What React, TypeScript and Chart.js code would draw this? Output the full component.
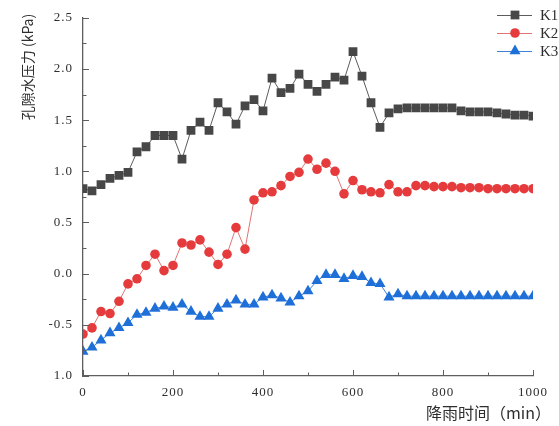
import React, { useEffect, useRef } from "react";
import { Chart, registerables } from "chart.js";

Chart.register(...registerables);

// Rainfall time (min)
const times = [
  0, 20, 40, 60, 80, 100, 120, 140, 160, 180,
  200, 220, 240, 260, 280, 300, 320, 340, 360, 380,
  400, 420, 440, 460, 480, 500, 520, 540, 560, 580,
  600, 620, 640, 660, 680, 700, 720, 740, 760, 780,
  800, 820, 840, 860, 880, 900, 920, 940, 960, 980,
  1000,
];

const k1 = [
  0.83, 0.81, 0.87, 0.93, 0.96, 0.99, 1.19, 1.24, 1.35, 1.35,
  1.35, 1.12, 1.40, 1.48, 1.40, 1.67, 1.58, 1.46, 1.64, 1.70,
  1.59, 1.91, 1.77, 1.81, 1.95, 1.85, 1.78, 1.85, 1.92, 1.89,
  2.17, 1.93, 1.67, 1.43, 1.57, 1.61, 1.62, 1.62, 1.62, 1.62,
  1.62, 1.62, 1.59, 1.58, 1.58, 1.58, 1.57, 1.56, 1.55, 1.55,
  1.54,
];

const k2 = [
  -0.59, -0.53, -0.37, -0.39, -0.27, -0.10, -0.05, 0.08, 0.19, 0.03,
  0.08, 0.30, 0.28, 0.33, 0.21, 0.09, 0.19, 0.45, 0.24, 0.72,
  0.79, 0.80, 0.86, 0.95, 0.99, 1.12, 1.02, 1.08, 1.00, 0.78,
  0.91, 0.82, 0.80, 0.79, 0.87, 0.80, 0.80, 0.86, 0.86, 0.85,
  0.85, 0.85, 0.84, 0.84, 0.84, 0.83, 0.83, 0.83, 0.83, 0.83,
  0.83,
];

const k3 = [
  -0.76, -0.72, -0.65, -0.58, -0.53, -0.48, -0.40, -0.38, -0.34, -0.32,
  -0.33, -0.30, -0.37, -0.42, -0.42, -0.34, -0.30, -0.26, -0.30, -0.30,
  -0.23, -0.21, -0.24, -0.28, -0.22, -0.17, -0.07, -0.01, -0.01, -0.05,
  -0.02, -0.03, -0.09, -0.10, -0.23, -0.20, -0.22, -0.22, -0.22, -0.22,
  -0.22, -0.22, -0.22, -0.22, -0.22, -0.22, -0.22, -0.22, -0.22, -0.22,
  -0.22,
];

const seriesNames = ["K1", "K2", "K3"];
const yTickValues = [-1, -0.5, 0, 0.5, 1, 1.5, 2, 2.5];
const yTickLabels = ["1.0", "-0.5", "0.0", "0.5", "1.0", "1.5", "2.0", "2.5"];
const xTickValues = [0, 200, 400, 600, 800, 1000];
const xTickLabels = ["0", "200", "400", "600", "800", "1000"];
const xTitle = "降雨时间（min）";
const yTitle = "孔隙水压力 (kPa)";

const styles = [
  { marker: "#474747", line: "#5c5c5c", shape: "rect", radius: 6.2 },
  { marker: "#e63b3d", line: "#e27373", shape: "circle", radius: 4.8 },
  { marker: "#1f6fd8", line: "#3f82d8", shape: "triangle", radius: 6.4 },
];

const AXIS = "#5e5e5e";
const TEXT = "#2e2e2e";

function drawMarker(c: CanvasRenderingContext2D, shape: string, x: number, y: number, r: number, color: string) {
  c.fillStyle = color;
  c.beginPath();
  if (shape === "rect") {
    const s = r * Math.SQRT1_2;
    c.rect(x - s, y - s, 2 * s, 2 * s);
  } else if (shape === "circle") {
    c.arc(x, y, r, 0, Math.PI * 2);
  } else {
    for (let i = 0; i < 3; i++) {
      const a = (i * 2 * Math.PI) / 3;
      const px = x + Math.sin(a) * r;
      const py = y - Math.cos(a) * r;
      if (i === 0) c.moveTo(px, py);
      else c.lineTo(px, py);
    }
    c.closePath();
  }
  c.fill();
}

export default function App() {
  const ref = useRef<HTMLCanvasElement>(null);

  useEffect(() => {
    document.body.style.margin = "0";
    const canvas = ref.current;
    if (!canvas) return;

    const decor = {
      id: "decor",
      beforeDraw(chart: any) {
        (chart.ctx as any).letterSpacing = "1px";
      },
      afterDraw(chart: any) {
        const c: CanvasRenderingContext2D = chart.ctx;
        (c as any).letterSpacing = "0px";
        const xs = chart.scales.x;
        const ys = chart.scales.y;
        const { left, bottom } = chart.chartArea;
        c.save();
        c.strokeStyle = AXIS;
        c.lineWidth = 1;
        // inward ticks on y axis (major + minor)
        for (let i = 0; i < yTickValues.length; i++) {
          const v = yTickValues[i];
          const py = Math.round(ys.getPixelForValue(v)) + 0.5;
          c.beginPath();
          c.moveTo(left, py);
          c.lineTo(left + 6, py);
          c.stroke();
          if (i < yTickValues.length - 1) {
            const mid = (v + yTickValues[i + 1]) / 2;
            const pm = Math.round(ys.getPixelForValue(mid)) + 0.5;
            c.beginPath();
            c.moveTo(left, pm);
            c.lineTo(left + 3.5, pm);
            c.stroke();
          }
        }
        // inward ticks on x axis
        for (let i = 0; i < xTickValues.length; i++) {
          const v = xTickValues[i];
          const px = Math.round(xs.getPixelForValue(v)) + 0.5;
          c.beginPath();
          c.moveTo(px, bottom);
          c.lineTo(px, bottom - 6);
          c.stroke();
          if (i < xTickValues.length - 1) {
            const mid = (v + xTickValues[i + 1]) / 2;
            const pm = Math.round(xs.getPixelForValue(mid)) + 0.5;
            c.beginPath();
            c.moveTo(pm, bottom);
            c.lineTo(pm, bottom - 3.5);
            c.stroke();
          }
        }

        // axis titles
        c.fillStyle = TEXT;
        c.font = '16px "Noto Sans CJK SC"';
        c.textAlign = "right";
        c.textBaseline = "middle";
        c.fillText(xTitle, 551, 413);

        c.save();
        c.translate(28, 67);
        c.rotate(-Math.PI / 2);
        c.textAlign = "center";
        c.font = '14px "Noto Sans CJK SC"';
        c.fillText(yTitle, 0, 0);
        c.restore();

        // legend
        const rows = [15, 33, 51];
        for (let i = 0; i < seriesNames.length; i++) {
          const st = styles[i];
          const y = rows[i];
          c.strokeStyle = st.line;
          c.lineWidth = 1;
          c.beginPath();
          c.moveTo(497, y + 0.5);
          c.lineTo(532, y + 0.5);
          c.stroke();
          drawMarker(c, st.shape, 515, y, st.radius, st.marker);
          c.fillStyle = TEXT;
          c.font = '15px "Liberation Serif"';
          c.textAlign = "left";
          c.textBaseline = "middle";
          c.fillText(seriesNames[i], 540, y + 1);
        }
        c.restore();
      },
    };

    const data = [k1, k2, k3];
    const chart = new Chart(canvas, {
      type: "line",
      data: {
        datasets: data.map((vals, i) => ({
          label: seriesNames[i],
          data: vals.map((v, j) => ({ x: times[j], y: v })),
          borderColor: styles[i].line,
          borderWidth: 1,
          backgroundColor: styles[i].marker,
          pointBackgroundColor: styles[i].marker,
          pointBorderColor: styles[i].marker,
          pointBorderWidth: 0,
          pointStyle: styles[i].shape as any,
          pointRadius: styles[i].radius,
          pointHoverRadius: styles[i].radius,
          tension: 0,
          fill: false,
        })),
      },
      options: {
        animation: false,
        responsive: false,
        devicePixelRatio: 1,
        layout: { padding: { left: 0, right: 26, top: 16, bottom: 0 } },
        plugins: {
          legend: { display: false },
          tooltip: { enabled: false },
        },
        scales: {
          x: {
            type: "linear",
            min: 0,
            max: 1000,
            grid: { display: false, drawTicks: false },
            border: { display: true, color: AXIS, width: 1.3 },
            afterFit: (s: any) => {
              s.height = 50;
            },
            afterBuildTicks: (s: any) => {
              s.ticks = xTickValues.map((v) => ({ value: v }));
            },
            ticks: {
              padding: 9,
              maxRotation: 0,
              autoSkip: false,
              color: TEXT,
              font: { family: '"Liberation Serif"', size: 13 },
              callback: (_v: any, idx: number) => xTickLabels[idx],
            },
          },
          y: {
            type: "linear",
            min: -1,
            max: 2.5,
            grid: { display: false, drawTicks: false },
            border: { display: true, color: AXIS, width: 1.3 },
            afterFit: (s: any) => {
              s.width = 83;
            },
            afterBuildTicks: (s: any) => {
              s.ticks = yTickValues.map((v) => ({ value: v }));
            },
            ticks: {
              padding: 10,
              color: TEXT,
              font: { family: '"Liberation Serif"', size: 13 },
              callback: (_v: any, idx: number) => yTickLabels[idx],
            },
          },
        },
      },
      plugins: [decor],
    });

    return () => chart.destroy();
  }, []);

  return (
    <div style={{ position: "fixed", left: 0, top: 0, width: 559, height: 426, background: "#fff" }}>
      <canvas ref={ref} width={559} height={426} style={{ display: "block" }} />
    </div>
  );
}
